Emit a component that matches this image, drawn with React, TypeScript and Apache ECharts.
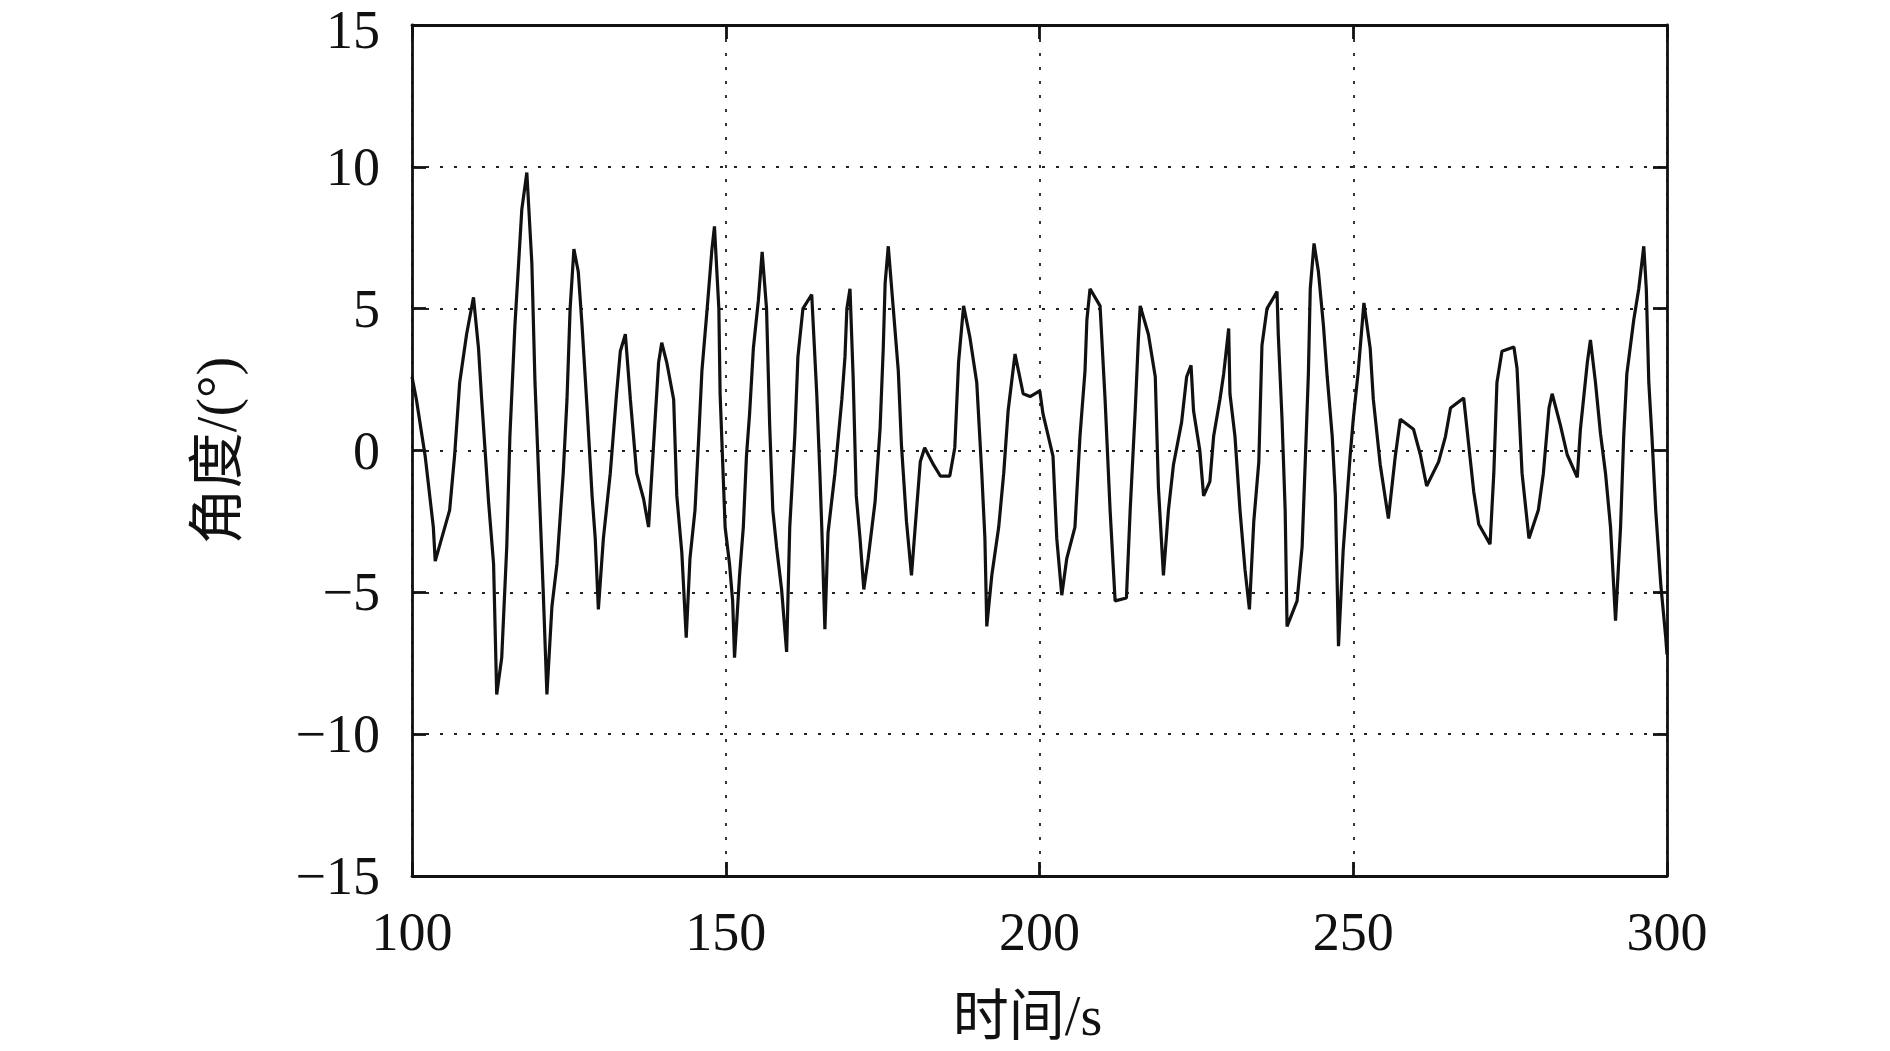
import React, { useEffect, useRef } from "react";
import * as echarts from "echarts";

// time (s)
const times: number[] = [
  100.0, 100.7, 102.1, 103.4, 103.7, 106.0, 106.8, 107.6, 108.7, 109.8,
  110.6, 111.1, 112.2, 113.0, 113.5, 114.3, 115.1, 115.6, 116.4, 117.5,
  118.3, 119.1, 119.6, 120.4, 120.9, 121.5, 122.3, 123.1, 124.1, 124.7,
  125.2, 125.8, 126.5, 127.1, 127.9, 128.7, 129.2, 129.7, 130.5, 131.6,
  132.6, 133.2, 134.0, 134.8, 135.8, 136.9, 137.7, 138.8, 139.3, 139.8,
  140.6, 141.7, 142.2, 143.0, 143.7, 144.3, 145.1, 145.7, 146.2, 147.0,
  147.8, 148.2, 148.9, 149.1, 149.9,
  150.6, 151.1, 151.4, 152.2, 152.8, 153.3, 153.8, 154.4, 155.2, 155.8,
  156.5, 157.0, 157.5, 158.1, 158.9, 159.7, 160.2, 161.0, 161.5, 162.3,
  163.7, 164.5, 165.0, 165.3, 165.8, 166.3, 167.4, 168.5, 169.0, 169.3,
  169.8, 170.3, 170.8, 171.4, 172.0, 172.7, 173.8, 174.6, 175.1, 175.4,
  175.9, 176.7, 177.5, 178.0, 178.8, 179.6, 180.4, 181.0, 181.7, 183.1,
  184.2, 185.7, 186.5, 187.1, 187.9, 188.9, 190.0, 190.8, 191.3, 191.6,
  192.4, 193.5, 194.3, 195.0, 196.1, 197.4, 198.5,
  200.05, 200.55, 202.15, 202.75, 203.55, 204.35, 205.65, 206.45, 207.25, 207.55,
  208.05, 209.65, 210.45, 211.25, 212.05, 213.85, 214.45, 215.25, 215.75, 216.05,
  217.35, 218.45, 218.95, 219.75, 220.55, 221.35, 222.65, 223.45, 224.15, 224.55,
  225.55, 226.15, 227.15, 227.75, 228.75, 229.35, 230.15, 230.35, 231.15, 231.95,
  232.75, 233.45, 234.15, 234.95, 235.45, 236.25, 237.85, 238.05, 238.65, 239.15,
  239.45, 241.05, 241.85, 242.35, 242.85, 243.15, 243.75, 244.45, 245.25, 245.85,
  246.65, 247.15, 247.65,
  248.4, 249.5, 250.0, 250.8, 251.7, 252.7, 253.2, 254.3, 255.6, 256.7,
  257.5, 259.6, 260.7, 261.7, 263.6, 264.7, 265.5, 267.6, 268.4, 269.2,
  270.0, 271.8, 272.4, 272.9, 273.7, 275.6, 276.1, 276.9, 278.0, 279.5,
  280.3, 281.2, 281.7, 283.0, 284.1, 285.7, 286.2, 287.3, 287.8, 288.6,
  289.4, 290.2, 291.0, 291.8, 292.6, 293.1, 293.6, 294.7, 295.5, 296.3,
  296.7, 297.1, 297.6, 298.2, 299.0, 299.8, 300.0,
];

// angle (deg)
const angles: number[] = [
  2.6, 1.8, -0.2, -2.7, -3.9, -2.1, -0.15, 2.4, 4.1, 5.4,
  3.6, 1.8, -1.8, -4.0, -8.6, -7.3, -3.4, 0.5, 4.4, 8.5,
  9.8, 6.6, 2.4, -2.1, -4.9, -8.6, -5.5, -4.0, -0.8, 1.8,
  5.0, 7.1, 6.3, 4.4, 1.5, -1.6, -3.1, -5.6, -3.1, -0.8,
  2.0, 3.5, 4.1, 1.8, -0.8, -1.7, -2.7, 1.3, 3.1, 3.8,
  3.1, 1.8, -1.6, -3.6, -6.6, -3.8, -2.1, 0.5, 2.8, 4.9,
  7.1, 7.9, 5.0, 2.0, -2.7,
  -4.0, -5.3, -7.3, -4.4, -2.7, -0.2, 1.3, 3.6, 5.3, 7.0,
  5.0, 0.9, -2.1, -3.4, -4.9, -7.1, -2.7, 0.5, 3.3, 5.0,
  5.5, 2.0, -0.8, -2.7, -6.3, -2.9, -0.8, 1.8, 3.3, 5.0,
  5.7, 2.6, -1.6, -3.1, -4.9, -3.8, -1.8, 0.8, 3.6, 5.9,
  7.2, 5.0, 2.8, 0.2, -2.5, -4.4, -2.1, -0.4, 0.1, -0.5,
  -0.9, -0.9, 0.1, 3.1, 5.1, 4.0, 2.4, -0.8, -3.1, -6.2,
  -4.4, -2.7, -0.8, 1.4, 3.4, 2.0, 1.9,
  2.1, 1.3, -0.2, -3.1, -5.1, -3.8, -2.7, 0.5, 2.8, 4.6,
  5.7, 5.1, 1.8, -2.1, -5.3, -5.2, -2.1, 1.4, 3.9, 5.1,
  4.1, 2.6, -1.3, -4.4, -2.1, -0.5, 1.0, 2.6, 3.0, 1.4,
  0.0, -1.6, -1.1, 0.5, 1.8, 2.7, 4.3, 2.0, 0.5, -2.1,
  -4.2, -5.6, -2.5, -0.4, 3.7, 5.0, 5.6, 4.1, 1.1, -2.1,
  -6.2, -5.3, -3.4, -0.4, 2.7, 5.7, 7.3, 6.3, 4.4, 2.6,
  0.5, -1.6, -6.9,
  -3.5, -0.2, 1.1, 2.8, 5.2, 3.6, 1.8, -0.5, -2.4, -0.2,
  1.1, 0.75, -0.15, -1.25, -0.4, 0.5, 1.5, 1.85, 0.2, -1.45,
  -2.6, -3.3, -0.8, 2.4, 3.5, 3.65, 2.9, -0.8, -3.1, -2.1,
  -0.8, 1.5, 2.0, 0.9, -0.15, -0.95, 0.75, 3.1, 3.9, 2.4,
  0.6, -0.8, -2.7, -6.0, -2.7, 0.5, 2.7, 4.6, 5.7, 7.2,
  5.7, 2.4, 0.5, -2.1, -4.7, -6.6, -7.2,
];

const xTicks = { min: 100, max: 300, interval: 50 };
const yTicks = { min: -15, max: 15, interval: 5 };
const xName = "时间/s";
const yName = "角度/(°)";

const FONT = "'Liberation Serif', 'Times New Roman', 'Noto Sans CJK SC', serif";
const INK = "#111";

export default function App() {
  const ref = useRef<HTMLDivElement>(null);

  useEffect(() => {
    document.body.style.margin = "0";
    if (!ref.current) return;
    const chart = echarts.init(ref.current, undefined, { renderer: "svg" });

    const minus = (v: number) => String(v).replace("-", "\u2212");
    const fmtY = (v: number) => (v === yTicks.max ? `{top|${minus(v)}}` : minus(v));
    const axisLine = { show: true, onZero: false, lineStyle: { color: INK, width: 2.8 } };
    const tick = { show: true, inside: true, length: 14, lineStyle: { color: INK, width: 2.8 } };
    const grid = { show: true, lineStyle: { color: "#222", width: 1.8, type: [3, 11] as number[] } };
    const labelStyle = { color: INK, fontFamily: FONT, fontSize: 54, lineHeight: 44 };

    chart.setOption({
      animation: false,
      backgroundColor: "#fff",
      grid: {
        left: 412,
        right: 223,
        top: 25,
        bottom: 175,
        containLabel: false,
        outerBoundsMode: "none",
      },
      xAxis: [
        {
          type: "value",
          ...xTicks,
          position: "bottom",
          axisLine,
          axisTick: tick,
          splitLine: grid,
          axisLabel: { ...labelStyle, margin: 34, formatter: minus },
          name: xName,
          nameLocation: "middle",
          nameGap: 112,
          nameTextStyle: { color: INK, fontFamily: FONT, fontSize: 56, padding: [0, 24, 0, 0] },
        },
        {
          type: "value",
          ...xTicks,
          position: "top",
          axisLine,
          axisTick: tick,
          splitLine: { show: false },
          axisLabel: { show: false },
        },
      ],
      yAxis: [
        {
          type: "value",
          ...yTicks,
          position: "left",
          axisLine,
          axisTick: tick,
          splitLine: grid,
          axisLabel: {
            ...labelStyle,
            margin: 32,
            formatter: fmtY,
            rich: {
              top: {
                color: INK,
                fontFamily: FONT,
                fontSize: 54,
                lineHeight: 44,
                padding: [10, 0, 0, 0],
              },
            },
          },
          name: yName,
          nameLocation: "middle",
          nameGap: 167,
          nameRotate: 90,
          nameTextStyle: { color: INK, fontFamily: FONT, fontSize: 56 },
        },
        {
          type: "value",
          ...yTicks,
          position: "right",
          axisLine,
          axisTick: tick,
          splitLine: { show: false },
          axisLabel: { show: false },
        },
      ],
      series: [
        {
          type: "line",
          xAxisIndex: 0,
          yAxisIndex: 0,
          data: times.map((t, i) => [t, angles[i]]),
          showSymbol: false,
          symbol: "none",
          lineStyle: { color: INK, width: 3.2 },
        },
      ],
    });

    return () => chart.dispose();
  }, []);

  return <div ref={ref} style={{ width: 1890, height: 1051 }} />;
}
